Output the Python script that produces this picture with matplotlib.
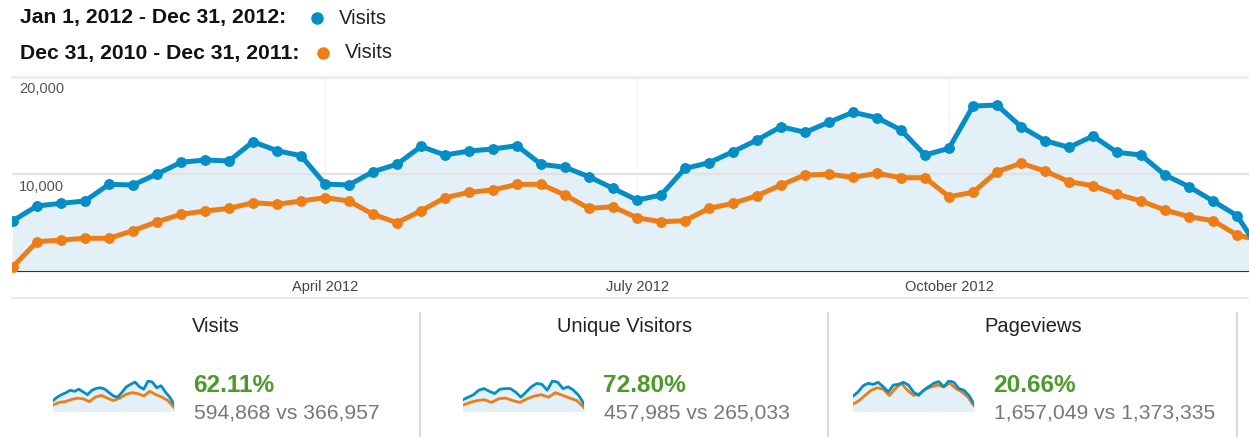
import numpy as np
import matplotlib
matplotlib.use("Agg")
import matplotlib.pyplot as plt
from matplotlib.lines import Line2D

plt.rcParams['font.family'] = ['Liberation Sans', 'DejaVu Sans']

# Weekly visits, 2012 vs previous year
visits_2012 = [5240, 6750, 7020, 7260, 8970, 8900, 10030, 11230, 11470, 11370,
               13350, 12420, 11910, 9000, 8900, 10270, 11030, 12860, 11980, 12390,
               12600, 12940, 11030, 10720, 9750, 8560, 7360, 7870, 10600, 11190,
               12320, 13520, 14890, 14310, 15350, 16370, 15810, 14550, 11980, 12670,
               17010, 17110, 14890, 13450, 12770, 13930, 12260, 11980, 9930, 8730,
               7260, 5750, 2000]
visits_2011 = [510, 3080, 3250, 3430, 3430, 4210, 5130, 5890, 6230, 6500,
               7080, 6920, 7260, 7600, 7260, 5890, 5030, 6250, 7600, 8150,
               8390, 8970, 8970, 7870, 6500, 6670, 5540, 5130, 5240, 6500,
               7020, 7800, 8900, 9930, 10000, 9690, 10100, 9650, 9650, 7700,
               8150, 10270, 11130, 10340, 9240, 8830, 7950, 7260, 6330, 5650,
               5240, 3770, 3180]
tick_weeks = [13, 26, 39]
tick_labels = ['April 2012', 'July 2012', 'October 2012']

legend_ranges = ['Jan 1, 2012 - Dec 31, 2012:', 'Dec 31, 2010 - Dec 31, 2011:']
metric_name = 'Visits'

# Sparkline panels
panel_titles = ['Visits', 'Unique Visitors', 'Pageviews']
panel_change = ['62.11%', '72.80%', '20.66%']
panel_totals = ['594,868 vs 366,957', '457,985 vs 265,033', '1,657,049 vs 1,373,335']

spark_visits_new = [5.9, 7.9, 9.3, 10.4, 11.8, 11.2, 12.4, 10.8, 9.3, 11.8, 12.8, 13.2, 12.4,
                    10.4, 8.5, 7.9, 10.8, 13.8, 15.2, 16.4, 13.8, 12.4, 17.1, 16.4, 13.2,
                    14.4, 10.8, 7.9, 3.9]
spark_visits_old = [3.3, 4.9, 5.3, 6.5, 7.3, 6.9, 5.3, 7.9, 8.9, 7.3, 5.9, 7.3, 9.3, 10.4,
                    9.9, 8.5, 11.2, 9.3, 7.9, 5.9, 2.0]
spark_unique_new = [5.0, 6.1, 7.2, 9.2, 9.9, 8.7, 7.7, 9.6, 9.9, 9.9, 8.4, 6.1, 8.4, 10.7,
                    12.2, 11.8, 9.2, 13.3, 12.7, 9.9, 10.7, 9.2, 6.9, 3.1]
spark_unique_old = [2.6, 3.8, 4.6, 5.0, 3.8, 5.4, 5.7, 4.6, 3.8, 5.4, 6.6, 7.2, 6.1, 8.1,
                    6.9, 5.7, 4.6, 1.5]
spark_pages_new = [22.2, 28.4, 37.7, 41.4, 39.8, 42.9, 36.2, 28.4, 38.8, 39.8, 42.9, 38.8,
                   28.4, 23.3, 31.0, 36.2, 41.4, 44.0, 36.2, 45.0, 42.9, 33.6, 31.0, 23.3, 10.3]
spark_pages_old = [10.3, 15.5, 23.3, 31.0, 34.6, 32.6, 23.3, 33.6, 41.4, 31.0, 23.3, 25.9,
                   32.6, 36.2, 38.8, 36.2, 41.4, 33.6, 28.4, 20.7, 7.8]
spark_series = [(spark_visits_new, spark_visits_old),
                (spark_unique_new, spark_unique_old),
                (spark_pages_new, spark_pages_old)]

BLUE = '#058DC7'
ORANGE = '#ED7E17'
FILL = '#E4F0F7'
W, H = 1249, 437


def fx(px):
    return px / W


def fy(py):
    return 1 - py / H


fig = plt.figure(figsize=(W / 100, H / 100), dpi=100)
fig.patch.set_facecolor('white')

# Legend at the top
for i, (label, color) in enumerate(zip(legend_ranges, [BLUE, ORANGE])):
    y = [18, 53][i]
    dot_x = [317, 323][i]
    fig.text(fx(20), fy(y), label, fontsize=15.2, fontweight='bold', color='#111111',
             va='center', ha='left')
    fig.add_artist(Line2D([fx(dot_x)], [fy(y)], marker='o', markersize=8, color=color,
                          linestyle='none', transform=fig.transFigure))
    fig.text(fx(dot_x + 22), fy(y), metric_name, fontsize=14.6, color='#222222',
             va='center', ha='left')

# Main chart
ax = fig.add_axes([fx(12), fy(271.7), fx(1249 - 12), (271.7 - 76.9) / H])
x = np.arange(len(visits_2012))
ax.set_xlim(-0.042, 51.5)
ax.set_ylim(0, 20000)
ax.fill_between(x, visits_2012, color=FILL, zorder=1)
for wk in tick_weeks:
    ax.axvline(wk, color='#F3F3F3', lw=0.8, zorder=0.5)
ax.axhline(10000, color='#E2E2E2', lw=1.6, zorder=1.5)
ax.axhline(20000, color='#EBEBEB', lw=2.0, zorder=1.5, clip_on=False)
ax.axhline(0, color='#333333', lw=1.5, zorder=2)
ax.plot(x, visits_2011, color=ORANGE, lw=3.6, marker='o', markersize=6.8, zorder=3)
ax.plot(x, visits_2012, color=BLUE, lw=3.6, marker='o', markersize=6.8, zorder=4)
for val in [10000, 20000]:
    ax.annotate(f'{val:,}', xy=(0, val), xycoords=('axes fraction', 'data'),
                xytext=(5, -4), textcoords='offset points', va='top', ha='left',
                fontsize=10.5, color='#555555', zorder=5)
ax.set_xticks(tick_weeks)
ax.set_xticklabels(tick_labels, fontsize=10.5, color='#444444')
ax.tick_params(axis='x', length=0, pad=6)
ax.set_yticks([])
for s in ax.spines.values():
    s.set_visible(False)
ax.patch.set_alpha(0)

# Separator under the month labels
fig.add_artist(Line2D([fx(12), 1], [fy(298), fy(298)], color='#EBEBEB', lw=1.5,
                      transform=fig.transFigure))

# Bottom panels
title_cx = [216, 625, 1033]
spark_x0 = [53, 463, 853]
text_x = [193, 603, 993]
for i in range(3):
    fig.text(fx(title_cx[i]), fy(327), panel_titles[i], fontsize=14.5, color='#222222',
             ha='center', va='center')
    new, old = spark_series[i]
    sax = fig.add_axes([fx(spark_x0[i]), fy(411), fx(121), 31 / H])
    xn = np.linspace(0, 1, len(new))
    xo = np.linspace(0, 1, len(old))
    sax.fill_between(xn, new, color=FILL, zorder=1)
    sax.plot(xo, old, color=ORANGE, lw=2.0, zorder=2)
    sax.plot(xn, new, color=BLUE, lw=2.0, zorder=3)
    sax.set_xlim(0, 1)
    sax.set_ylim(0, max(new) * 1.03)
    sax.axis('off')
    fig.text(fx(text_x[i]), fy(385), panel_change[i], fontsize=17.6, fontweight='bold',
             color='#4C9A2A', ha='left', va='center')
    fig.text(fx(text_x[i] + 1), fy(413), panel_totals[i], fontsize=15.2, color='#777777',
             ha='left', va='center')

# Vertical separators between the panels
for px in [420, 828, 1237]:
    fig.add_artist(Line2D([fx(px), fx(px)], [fy(313), 0], color='#D8D8D8', lw=1.5,
                          transform=fig.transFigure))

plt.savefig('out.png', dpi=100)
